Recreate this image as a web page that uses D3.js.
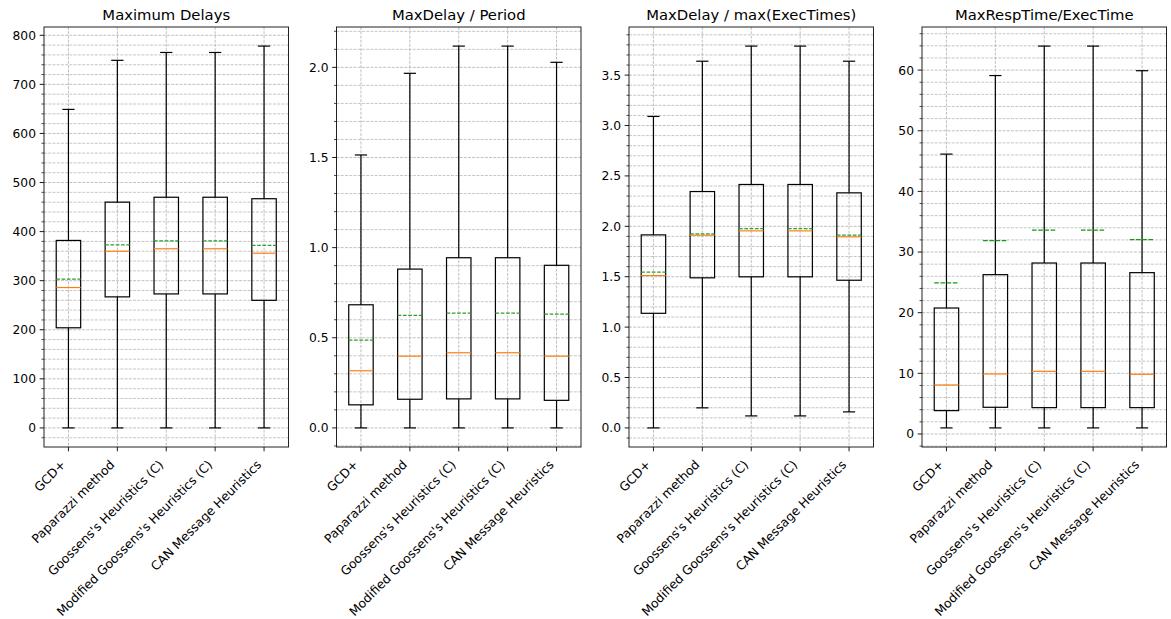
<!DOCTYPE html>
<html>
<head>
<meta charset="utf-8">
<script src="https://cdn.jsdelivr.net/npm/d3@7"></script>
<style>
    body { margin: 0; background: #fff; }
    svg { font-family: "DejaVu Sans", sans-serif; }
</style>
</head>
<body>
<div id="chart"></div>
<script>
const methods = ["GCD+", "Paparazzi method", "Goossens's Heuristics (C)", "Modified Goossens's Heuristics (C)", "CAN Message Heuristics"];

// Maximum Delays
const delayLow  = [0, 0, 0, 0, 0];
const delayQ1   = [204, 267, 273, 273, 260];
const delayMed  = [286, 360, 365, 365, 356];
const delayMean = [303, 373, 381, 381, 372];
const delayQ3   = [382, 460, 470, 470, 467];
const delayHigh = [649, 749, 765, 765, 778];

// MaxDelay / Period
const periodLow  = [0, 0, 0, 0, 0];
const periodQ1   = [0.128, 0.159, 0.161, 0.161, 0.153];
const periodMed  = [0.317, 0.398, 0.417, 0.417, 0.398];
const periodMean = [0.487, 0.624, 0.637, 0.637, 0.631];
const periodQ3   = [0.683, 0.881, 0.944, 0.944, 0.902];
const periodHigh = [1.514, 1.967, 2.118, 2.118, 2.028];

// MaxDelay / max(ExecTimes)
const execLow  = [0, 0.199, 0.119, 0.119, 0.159];
const execQ1   = [1.137, 1.489, 1.499, 1.499, 1.465];
const execMed  = [1.511, 1.912, 1.955, 1.955, 1.896];
const execMean = [1.545, 1.925, 1.978, 1.978, 1.912];
const execQ3   = [1.915, 2.345, 2.415, 2.415, 2.332];
const execHigh = [3.09, 3.638, 3.788, 3.788, 3.638];

// MaxRespTime/ExecTime
const respLow  = [1, 1, 1, 1, 1];
const respQ1   = [3.85, 4.4, 4.34, 4.34, 4.34];
const respMed  = [8.08, 9.89, 10.33, 10.33, 9.84];
const respMean = [24.9, 31.88, 33.63, 33.63, 32.05];
const respQ3   = [20.77, 26.27, 28.19, 28.19, 26.6];
const respHigh = [46.15, 59.1, 63.96, 63.96, 59.9];

const titles = ["Maximum Delays", "MaxDelay / Period", "MaxDelay / max(ExecTimes)", "MaxRespTime/ExecTime"];
const majorSteps = [100, 0.5, 0.5, 10];
const minorSteps = [20, 0.1, 0.1, 2];
const tickFormats = ["d", ".1f", ".1f", "d"];

const panels = [
    [delayLow, delayQ1, delayMed, delayMean, delayQ3, delayHigh],
    [periodLow, periodQ1, periodMed, periodMean, periodQ3, periodHigh],
    [execLow, execQ1, execMed, execMean, execQ3, execHigh],
    [respLow, respQ1, respMed, respMean, respQ3, respHigh]
];

const W = 1171, H = 619;
const lefts = [44, 336.5, 629, 922];
const pw = 244.5, plotTop = 27, plotBottom = 447;

const svg = d3.select("#chart").append("svg")
    .attr("width", W)
    .attr("height", H);

svg.append("rect").attr("width", W).attr("height", H).attr("fill", "#fff");

function stepTicks(lo, hi, step) {
    const out = [];
    const start = Math.ceil(lo / step - 1e-9);
    const end = Math.floor(hi / step + 1e-9);
    for (let k = start; k <= end; k++) out.push(+(k * step).toFixed(6));
    return out;
}

panels.forEach((stats, p) => {
    const [low, q1, med, mean, q3, high] = stats;
    const data = methods.map((m, i) => ({
        pos: i + 1, low: low[i], q1: q1[i], med: med[i], mean: mean[i], q3: q3[i], high: high[i]
    }));

    const lo = d3.min(low), hi = d3.max(high);
    const pad = (hi - lo) * 0.05;

    const x = d3.scaleLinear().domain([0.5, 5.5]).range([lefts[p], lefts[p] + pw]);
    const y = d3.scaleLinear().domain([lo - pad, hi + pad]).range([plotBottom, plotTop]);

    const g = svg.append("g");
    const majors = stepTicks(lo - pad, hi + pad, majorSteps[p]);
    const minors = stepTicks(lo - pad, hi + pad, minorSteps[p])
        .filter(v => !majors.some(m => Math.abs(m - v) < 1e-6));

    // grid
    g.selectAll(".minor-grid")
        .data(minors)
        .enter()
        .append("line")
        .attr("x1", x(0.5)).attr("x2", x(5.5))
        .attr("y1", d => y(d)).attr("y2", d => y(d))
        .attr("stroke", "#b8b8b8")
        .attr("stroke-width", 0.8)
        .attr("stroke-dasharray", "2.96,1.28");

    g.selectAll(".major-grid")
        .data(majors)
        .enter()
        .append("line")
        .attr("x1", x(0.5)).attr("x2", x(5.5))
        .attr("y1", d => y(d)).attr("y2", d => y(d))
        .attr("stroke", "#b0b0b0")
        .attr("stroke-width", 0.8)
        .attr("stroke-dasharray", "2.96,1.28");

    g.selectAll(".x-grid")
        .data(data)
        .enter()
        .append("line")
        .attr("x1", d => x(d.pos)).attr("x2", d => x(d.pos))
        .attr("y1", plotTop).attr("y2", plotBottom)
        .attr("stroke", "#b0b0b0")
        .attr("stroke-width", 0.8)
        .attr("stroke-dasharray", "2.96,1.28");

    // whiskers and caps
    const boxes = g.selectAll(".box")
        .data(data)
        .enter()
        .append("g");

    boxes.append("line")
        .attr("x1", d => x(d.pos)).attr("x2", d => x(d.pos))
        .attr("y1", d => y(d.low)).attr("y2", d => y(d.q1))
        .attr("stroke", "#000").attr("stroke-width", 1.2);

    boxes.append("line")
        .attr("x1", d => x(d.pos)).attr("x2", d => x(d.pos))
        .attr("y1", d => y(d.q3)).attr("y2", d => y(d.high))
        .attr("stroke", "#000").attr("stroke-width", 1.2);

    boxes.append("line")
        .attr("x1", d => x(d.pos - 0.125)).attr("x2", d => x(d.pos + 0.125))
        .attr("y1", d => y(d.low)).attr("y2", d => y(d.low))
        .attr("stroke", "#000").attr("stroke-width", 1.2);

    boxes.append("line")
        .attr("x1", d => x(d.pos - 0.125)).attr("x2", d => x(d.pos + 0.125))
        .attr("y1", d => y(d.high)).attr("y2", d => y(d.high))
        .attr("stroke", "#000").attr("stroke-width", 1.2);

    boxes.append("rect")
        .attr("x", d => x(d.pos - 0.25))
        .attr("y", d => y(d.q3))
        .attr("width", d => x(d.pos + 0.25) - x(d.pos - 0.25))
        .attr("height", d => y(d.q1) - y(d.q3))
        .attr("fill", "none")
        .attr("stroke", "#000").attr("stroke-width", 1.2);

    boxes.append("line")
        .attr("x1", d => x(d.pos - 0.25)).attr("x2", d => x(d.pos + 0.25))
        .attr("y1", d => y(d.med)).attr("y2", d => y(d.med))
        .attr("stroke", "#ff7f0e").attr("stroke-width", 1.2);

    boxes.append("line")
        .attr("x1", d => x(d.pos - 0.25)).attr("x2", d => x(d.pos + 0.25))
        .attr("y1", d => y(d.mean)).attr("y2", d => y(d.mean))
        .attr("stroke", p === 3 ? "#139a13" : "#2ca02c")
        .attr("stroke-width", 1.2)
        .attr("stroke-dasharray", p === 3 ? "4.6,1.6" : "3.7,1.6");

    // spines
    g.append("rect")
        .attr("x", x(0.5)).attr("y", plotTop)
        .attr("width", pw).attr("height", plotBottom - plotTop)
        .attr("fill", "none")
        .attr("stroke", "#222")
        .attr("stroke-width", 1);

    // y ticks
    g.selectAll(".ytick")
        .data(majors)
        .enter()
        .append("line")
        .attr("x1", x(0.5) - 4.3).attr("x2", x(0.5))
        .attr("y1", d => y(d)).attr("y2", d => y(d))
        .attr("stroke", "#000").attr("stroke-width", 0.9);

    g.selectAll(".yminor")
        .data(minors)
        .enter()
        .append("line")
        .attr("x1", x(0.5) - 2.5).attr("x2", x(0.5))
        .attr("y1", d => y(d)).attr("y2", d => y(d))
        .attr("stroke", "#000").attr("stroke-width", 0.7);

    const fmt = d3.format(tickFormats[p]);
    g.selectAll(".ylabel")
        .data(majors)
        .enter()
        .append("text")
        .attr("x", x(0.5) - 8)
        .attr("y", d => y(d))
        .attr("dy", "0.36em")
        .attr("text-anchor", "end")
        .style("font-size", "12.3px")
        .style("fill", "#000")
        .text(d => fmt(d));

    // x ticks
    g.selectAll(".xtick")
        .data(data)
        .enter()
        .append("line")
        .attr("x1", d => x(d.pos)).attr("x2", d => x(d.pos))
        .attr("y1", plotBottom).attr("y2", plotBottom + 4.3)
        .attr("stroke", "#000").attr("stroke-width", 0.9);

    g.selectAll(".xlabel")
        .data(data)
        .enter()
        .append("text")
        .attr("transform", d => `translate(${x(d.pos) - 2},${plotBottom + 18.5}) rotate(-45)`)
        .attr("text-anchor", "end")
        .style("font-size", "12.4px")
        .style("fill", "#000")
        .text((d, i) => methods[i]);

    // title
    g.append("text")
        .attr("x", x(3))
        .attr("y", 19.5)
        .attr("text-anchor", "middle")
        .style("font-size", "14.8px")
        .style("fill", "#000")
        .text(titles[p]);
});
</script>
</body>
</html>
